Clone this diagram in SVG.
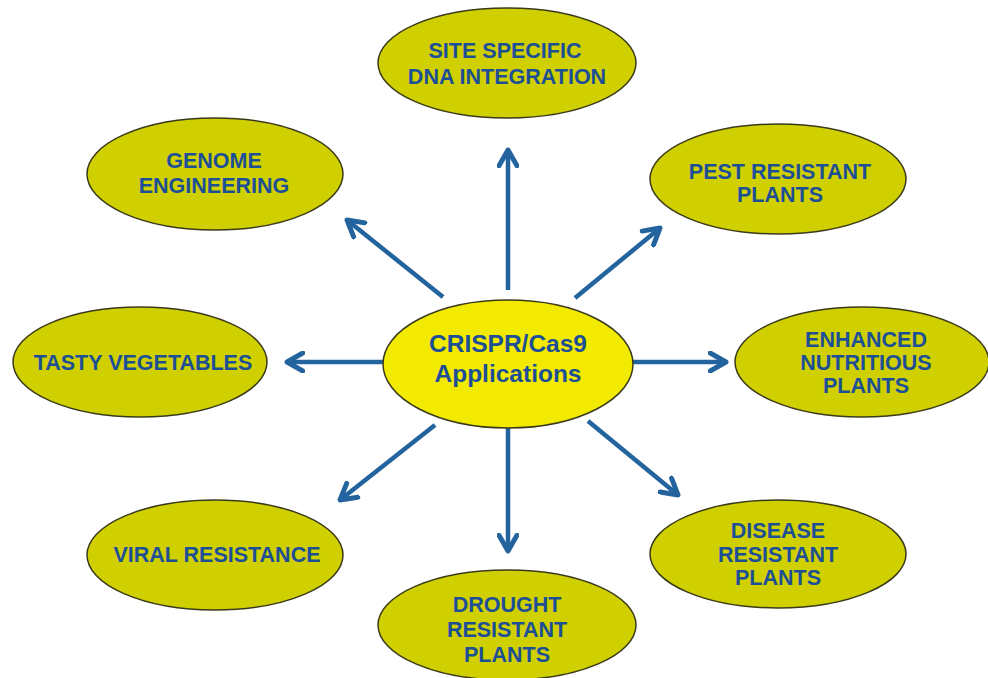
<svg xmlns="http://www.w3.org/2000/svg" width="988" height="678" viewBox="0 0 988 678">
<defs>
<style>
.n{fill:#d0d000;stroke:#3a3a1a;stroke-width:1.5}
.c{fill:#f2ea00;stroke:#3a3a1a;stroke-width:1.5}
.t{font-family:"Liberation Sans",Arial,sans-serif;font-weight:bold;font-size:21.5px;fill:#1d4f96;text-anchor:middle}
.tc{font-family:"Liberation Sans",Arial,sans-serif;font-weight:bold;font-size:24.5px;fill:#1d4f96;text-anchor:middle}
.a{stroke:#24649e;stroke-width:4.5;fill:none;marker-end:url(#ah)}
</style>
<marker id="ah" viewBox="0 0 10 10" refX="8" refY="5" markerWidth="5" markerHeight="5" orient="auto" markerUnits="strokeWidth">
<path d="M1,1 L8,5 L1,9" fill="none" stroke="#24649e" stroke-width="2.2" stroke-linecap="round" stroke-linejoin="round"/>
</marker>
</defs>
<rect width="988" height="678" fill="#ffffff"/>
<g id="connectors">
<line class="a" x1="508" y1="290" x2="508" y2="150"/>
<line class="a" x1="443" y1="297" x2="347" y2="220"/>
<line class="a" x1="575" y1="298" x2="660" y2="228"/>
<line class="a" x1="383" y1="362" x2="287" y2="362"/>
<line class="a" x1="633" y1="362" x2="726" y2="362"/>
<line class="a" x1="435" y1="425" x2="340" y2="500"/>
<line class="a" x1="508" y1="428" x2="508" y2="551"/>
<line class="a" x1="588" y1="421" x2="678" y2="495"/>
</g>
<g id="site"><ellipse class="n" cx="507" cy="63" rx="129" ry="55"/><text class="t" x="505" y="58">SITE SPECIFIC</text><text class="t" x="507" y="84">DNA INTEGRATION</text></g>
<g id="genome"><ellipse class="n" cx="215" cy="174" rx="128" ry="56"/><text class="t" x="214" y="168">GENOME</text><text class="t" x="214" y="193">ENGINEERING</text></g>
<g id="pest"><ellipse class="n" cx="778" cy="179" rx="128" ry="55"/><text class="t" x="780" y="179">PEST RESISTANT</text><text class="t" x="780" y="202">PLANTS</text></g>
<g id="tasty"><ellipse class="n" cx="140" cy="362" rx="127" ry="55"/><text class="t" x="143" y="370">TASTY VEGETABLES</text></g>
<g id="enhanced"><ellipse class="n" cx="862" cy="362" rx="127" ry="55"/><text class="t" x="866" y="347">ENHANCED</text><text class="t" x="866" y="370">NUTRITIOUS</text><text class="t" x="866" y="393">PLANTS</text></g>
<g id="center"><ellipse class="c" cx="508" cy="364" rx="125" ry="64"/><text class="tc" x="508" y="352">CRISPR/Cas9</text><text class="tc" x="508" y="382">Applications</text></g>
<g id="viral"><ellipse class="n" cx="215" cy="555" rx="128" ry="55"/><text class="t" x="217" y="562">VIRAL RESISTANCE</text></g>
<g id="disease"><ellipse class="n" cx="778" cy="554" rx="128" ry="54"/><text class="t" x="778" y="538">DISEASE</text><text class="t" x="778" y="562">RESISTANT</text><text class="t" x="778" y="585">PLANTS</text></g>
<g id="drought"><ellipse class="n" cx="507" cy="625" rx="129" ry="55"/><text class="t" x="507" y="612">DROUGHT</text><text class="t" x="507" y="637">RESISTANT</text><text class="t" x="507" y="662">PLANTS</text></g>
</svg>
